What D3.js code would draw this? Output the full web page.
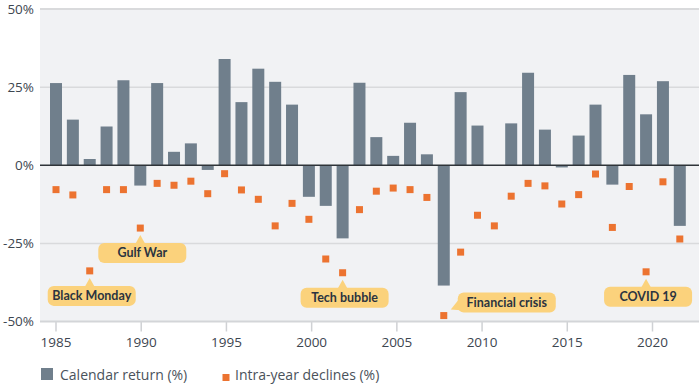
<!DOCTYPE html>
<html>
<head>
<meta charset="utf-8">
<script src="https://cdn.jsdelivr.net/npm/d3@7"></script>
<style>
  body { margin: 0; background: #fff; }
  svg { display: block; font-family: "Open Sans", sans-serif; }
</style>
</head>
<body>
<div id="chart"></div>
<script>
// Chart data
const years = [1985, 1986, 1987, 1988, 1989, 1990, 1991, 1992, 1993, 1994,
    1995, 1996, 1997, 1998, 1999, 2000, 2001, 2002, 2003, 2004,
    2005, 2006, 2007, 2008, 2009, 2010, 2011, 2012, 2013, 2014,
    2015, 2016, 2017, 2018, 2019, 2020, 2021, 2022];

// Calendar return (%)
const calendarReturns = [26.3, 14.6, 2.0, 12.4, 27.2, -6.5, 26.3, 4.3, 7.0, -1.5,
    34.0, 20.2, 30.9, 26.7, 19.4, -10.1, -13.0, -23.4, 26.4, 9.0,
    3.0, 13.6, 3.5, -38.5, 23.4, 12.7, 0.0, 13.4, 29.6, 11.4,
    -0.7, 9.5, 19.4, -6.2, 28.9, 16.3, 26.9, -19.4];

// Intra-year declines (%)
const intraYearDeclines = [-7.8, -9.5, -33.8, -7.8, -7.8, -20.1, -5.8, -6.4, -5.1, -9.1,
    -2.7, -7.9, -10.9, -19.4, -12.2, -17.3, -30.0, -34.4, -14.2, -8.3,
    -7.3, -7.8, -10.3, -48.1, -27.8, -16.0, -19.4, -9.9, -5.8, -6.6,
    -12.4, -9.4, -2.8, -19.9, -6.8, -34.1, -5.3, -23.6];

const yTicks = [50, 25, 0, -25, -50];
const xTicks = [1985, 1990, 1995, 2000, 2005, 2010, 2015, 2020];

const events = [
    { year: 1987, label: "Black Monday" },
    { year: 1990, label: "Gulf War" },
    { year: 2002, label: "Tech bubble" },
    { year: 2008, label: "Financial crisis" },
    { year: 2020, label: "COVID 19" }
];

const legendItems = ["Calendar return (%)", "Intra-year declines (%)"];

// Layout of the callouts (kept apart from the data)
const calloutPlacement = { "Financial crisis": "right" };

const colors = {
    bar: "#707f8c",
    square: "#ec7330",
    plotBg: "#f1f2f4",
    callout: "#fbd27c",
    text: "#3d4650"
};

function drawChart() {
    const width = 700, height = 385;
    const plot = { left: 40, right: 699, top: 9, bottom: 321.5 };

    const svg = d3.select("#chart").append("svg")
        .attr("width", width)
        .attr("height", height);

    const y = d3.scaleLinear()
        .domain([-50, 50])
        .range([plot.bottom, plot.top]);

    // bar / square centres
    const x = d3.scalePoint()
        .domain(years)
        .range([56, 679.8]);

    // axis tick positions
    const xAxisScale = d3.scaleLinear()
        .domain([1985, 2020])
        .range([55.5, 652]);

    const barWidth = 12;
    const squareSize = 7;

    // plot background
    svg.append("rect")
        .attr("x", plot.left)
        .attr("y", plot.top)
        .attr("width", plot.right - plot.left)
        .attr("height", plot.bottom - plot.top)
        .style("fill", colors.plotBg);

    // grid lines
    svg.append("g")
        .selectAll("line")
        .data(yTicks.filter(d => d !== 0 && d !== -50))
        .join("line")
        .attr("x1", plot.left)
        .attr("x2", plot.right)
        .attr("y1", d => y(d))
        .attr("y2", d => y(d))
        .style("stroke", "#d9dadc")
        .style("stroke-width", d => d === 50 ? 2 : 1.5);

    // y labels
    svg.append("g")
        .selectAll("text")
        .data(yTicks)
        .join("text")
        .attr("x", 34)
        .attr("y", d => y(d))
        .attr("dy", "0.35em")
        .style("text-anchor", "end")
        .style("font-size", "13.5px")
        .style("fill", colors.text)
        .text(d => `${d}%`);

    // bottom axis
    const xAxis = d3.axisBottom(xAxisScale)
        .tickValues(xTicks)
        .tickFormat(d3.format("d"))
        .tickSize(10)
        .tickPadding(6);

    const axisG = svg.append("g")
        .attr("transform", `translate(0,${plot.bottom})`)
        .call(xAxis);
    axisG.select(".domain").remove();
    axisG.selectAll(".tick line")
        .style("stroke", "#cfd1d4")
        .style("stroke-width", 1.5);
    axisG.selectAll(".tick text")
        .style("font-size", "13.5px")
        .style("font-family", "'Open Sans', sans-serif")
        .style("fill", colors.text);

    svg.append("line")
        .attr("x1", plot.left)
        .attr("x2", plot.right)
        .attr("y1", plot.bottom)
        .attr("y2", plot.bottom)
        .style("stroke", "#d3d5d8")
        .style("stroke-width", 2);

    // bars
    svg.append("g")
        .selectAll("rect")
        .data(years.map((yr, i) => ({ year: yr, value: calendarReturns[i] })))
        .join("rect")
        .attr("x", d => x(d.year) - barWidth / 2)
        .attr("y", d => y(Math.max(0, d.value)))
        .attr("width", barWidth)
        .attr("height", d => Math.abs(y(d.value) - y(0)))
        .style("fill", colors.bar);

    // zero line
    svg.append("line")
        .attr("x1", plot.left)
        .attr("x2", plot.right)
        .attr("y1", y(0))
        .attr("y2", y(0))
        .style("stroke", "#2f3439")
        .style("stroke-width", 1.5);

    // intra-year decline squares
    svg.append("g")
        .selectAll("rect")
        .data(years.map((yr, i) => ({ year: yr, value: intraYearDeclines[i] })))
        .join("rect")
        .attr("x", d => x(d.year) - squareSize / 2)
        .attr("y", d => y(d.value) - squareSize / 2)
        .attr("width", squareSize)
        .attr("height", squareSize)
        .style("fill", colors.square);

    // callouts
    events.forEach(ev => {
        const i = years.indexOf(ev.year);
        const px = x(ev.year);
        const py = y(intraYearDeclines[i]);
        const g = svg.append("g");
        const boxH = 20;
        let bx, by, boxW;

        if (calloutPlacement[ev.label] === "right") {
            boxW = 98;
            bx = px + 14;
            by = py - 23;
            // tail pointing down-left to the square
            g.append("path")
                .attr("d", `M${bx + 1},${by + 7} L${bx + 6},${by + boxH - 2} L${px + 7},${py - 6} Z`)
                .style("fill", colors.callout);
        } else {
            boxW = 88;
            bx = px - boxW / 2 + 2;
            by = py + 15;
            g.append("path")
                .attr("d", `M${px - 5},${by + 1} L${px},${by - 8} L${px + 5},${by + 1} Z`)
                .style("fill", colors.callout);
        }

        g.append("rect")
            .attr("x", bx).attr("y", by)
            .attr("width", boxW).attr("height", boxH)
            .attr("rx", 6)
            .style("fill", colors.callout);

        g.append("text")
            .attr("x", bx + boxW / 2)
            .attr("y", by + boxH / 2)
            .attr("dy", "0.35em")
            .style("text-anchor", "middle")
            .style("font-family", "Lato, sans-serif")
            .style("font-size", "12.5px")
            .style("font-weight", "bold")
            .style("fill", "#2b3440")
            .text(ev.label);
    });

    // legend
    const legend = svg.append("g");
    legend.append("rect")
        .attr("x", 41).attr("y", 368)
        .attr("width", 12).attr("height", 12)
        .style("fill", colors.bar);
    legend.append("text")
        .attr("x", 60).attr("y", 375)
        .attr("dy", "0.35em")
        .style("font-size", "14px")
        .style("fill", "#4a525b")
        .text(legendItems[0]);
    legend.append("rect")
        .attr("x", 222.5).attr("y", 374)
        .attr("width", 7).attr("height", 7)
        .style("fill", colors.square);
    legend.append("text")
        .attr("x", 235).attr("y", 375)
        .attr("dy", "0.35em")
        .style("font-size", "14px")
        .style("fill", "#4a525b")
        .text(legendItems[1]);
}

drawChart();
</script>
</body>
</html>
